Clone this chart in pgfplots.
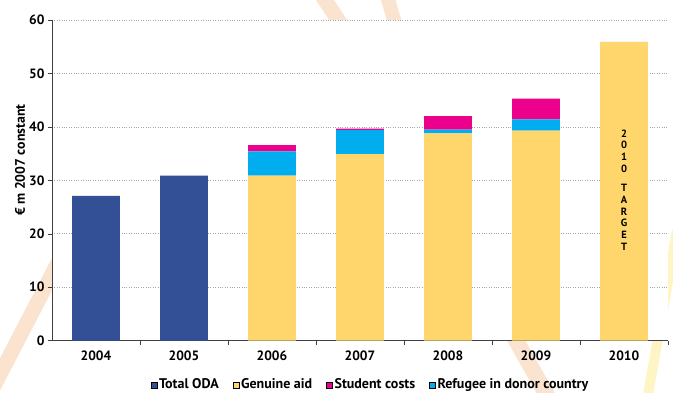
\documentclass[border=0pt]{standalone}
\usepackage{pgfplots}
\pgfplotsset{compat=1.18}
\usepackage{fontspec}
\setmainfont{PT Sans}

\definecolor{odablue}{HTML}{334F96}
\definecolor{aidyellow}{HTML}{FED66B}
\definecolor{studpink}{HTML}{EC008C}
\definecolor{refcyan}{HTML}{00AEEF}
\definecolor{deco}{HTML}{F7C9A0}
\definecolor{decoy}{HTML}{FFE98A}

\begin{document}
\begin{tikzpicture}[x=1pt,y=1pt]
% faint background decoration (page watermark)
\begin{scope}[opacity=0.5,line cap=butt]
\draw[deco,line width=15pt] (-60,-49) -- (6,78);
\draw[deco,line width=15pt] (270,345) -- (300,300);
\draw[deco,line width=14pt] (335,345) -- (348,300);
\draw[deco,line width=16pt] (462,4) -- (498,-60);
\draw[decoy,line width=10pt] (625,110) -- (595,-60);
\end{scope}
\begin{axis}[
  at={(0,0)}, anchor=south west,
  scale only axis, width=616pt, height=320.7pt,
  axis background/.style={fill=white},
  ybar stacked, bar width=0.545,
  xmin=-0.5, xmax=6.5, ymin=0, ymax=60,
  axis lines*=left, axis line style={black!75, line width=0.8pt},
  xtick={0,...,6}, xticklabels={2004,2005,2006,2007,2008,2009,2010},
  major x tick style={draw=none},
  minor xtick={0.5,1.5,...,6.5},
  minor tick length=4pt,
  ytick={0,10,...,60},
  major tick length=4pt,
  tick align=outside,
  tick style={black!75, line width=0.6pt},
  ymajorgrids, grid style={gray!70, dotted, line width=0.7pt},
  /pgf/number format/assume math mode=true,
  ticklabel style={font=\fontsize{13.5}{15}\selectfont\bfseries},
  xticklabel style={yshift=-3pt},
  ylabel={€ m 2007 constant},
  ylabel style={font=\fontsize{13.8}{15}\selectfont\bfseries,
    at={(axis description cs:-0.052,0.563)}, anchor=center, rotate=0},
  legend style={at={(0.517,-0.135)}, anchor=center, draw=none, fill=none,
    legend columns=-1, font=\fontsize{14}{16}\selectfont\bfseries,
    /tikz/every even column/.append style={column sep=12pt}},
  legend image code/.code={\fill[#1] (0pt,-4pt) rectangle (6pt,2pt);},
]
\addlegendimage{fill=odablue}
\addlegendentry{Total ODA}
\addlegendimage{fill=aidyellow}
\addlegendentry{Genuine aid}
\addlegendimage{fill=studpink}
\addlegendentry{Student costs}
\addlegendimage{fill=refcyan}
\addlegendentry{Refugee in donor country}

\addplot[fill=odablue, draw=none, forget plot]
  coordinates {(0,27.1)(1,30.9)(2,0)(3,0)(4,0)(5,0)(6,0)};
\addplot[fill=aidyellow, draw=none, forget plot]
  coordinates {(0,0)(1,0)(2,30.9)(3,34.9)(4,38.8)(5,39.3)(6,55.9)};
\addplot[fill=refcyan, draw=none, forget plot]
  coordinates {(0,0)(1,0)(2,4.5)(3,4.5)(4,0.7)(5,2.1)(6,0)};
\addplot[fill=studpink, draw=none, forget plot]
  coordinates {(0,0)(1,0)(2,1.2)(3,0.3)(4,2.5)(5,3.9)(6,0)};

\coordinate (tgt) at (axis cs:6,28.2);
\end{axis}
\node[font=\fontsize{10.5}{11.7}\selectfont\bfseries, align=center, text=black]
  at (tgt) {2\\0\\1\\0\\[8pt]T\\A\\R\\G\\E\\T};
\pgfresetboundingbox
\path (-52,-51.3) rectangle (621,340.7);
\end{tikzpicture}
\end{document}
